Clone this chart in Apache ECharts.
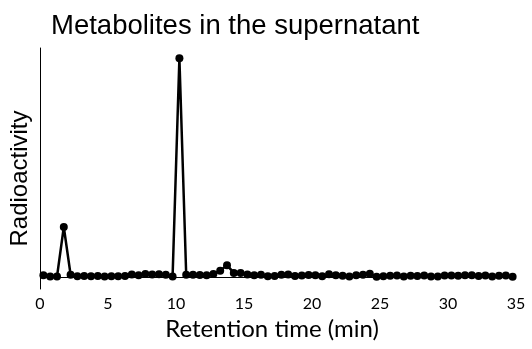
<!DOCTYPE html>
<html>
<head>
<meta charset="utf-8">
<script src="https://cdn.jsdelivr.net/npm/echarts@6/dist/echarts.min.js"></script>
<style>
  html, body { margin: 0; padding: 0; background: #fff; }
  #chart { width: 532px; height: 349px; }
</style>
</head>
<body>
<div id="chart"></div>
<script>
  // retention times (min), one fraction every 0.5 min
  var times = [
    0.25, 0.75, 1.25, 1.75, 2.25, 2.75, 3.25, 3.75, 4.25, 4.75,
    5.25, 5.75, 6.25, 6.75, 7.25, 7.75, 8.25, 8.75, 9.25, 9.75,
    10.25, 10.75, 11.25, 11.75, 12.25, 12.75, 13.25, 13.75, 14.25, 14.75,
    15.25, 15.75, 16.25, 16.75, 17.25, 17.75, 18.25, 18.75, 19.25, 19.75,
    20.25, 20.75, 21.25, 21.75, 22.25, 22.75, 23.25, 23.75, 24.25, 24.75,
    25.25, 25.75, 26.25, 26.75, 27.25, 27.75, 28.25, 28.75, 29.25, 29.75,
    30.25, 30.75, 31.25, 31.75, 32.25, 32.75, 33.25, 33.75, 34.25, 34.75
  ];
  // radioactivity (arbitrary units)
  var radioactivity = [
    1.0, 0.4, 0.4, 22.0, 1.2, 0.6, 0.7, 0.6, 0.7, 0.5,
    0.6, 0.6, 0.7, 1.3, 1.0, 1.5, 1.3, 1.4, 1.2, 0.5,
    95.5, 1.2, 1.2, 1.1, 1.0, 1.5, 3.0, 5.4, 2.0, 2.0,
    1.3, 1.0, 1.2, 0.6, 0.7, 1.2, 1.3, 0.7, 0.9, 1.1,
    1.0, 0.6, 1.4, 1.0, 0.8, 0.4, 1.0, 1.2, 1.6, 0.3,
    0.6, 0.8, 0.9, 0.5, 0.8, 0.7, 0.9, 0.5, 0.4, 0.9,
    0.9, 0.8, 1.0, 1.0, 0.7, 0.9, 0.5, 0.8, 0.9, 0.3
  ];
  var xTicks = [0, 5, 10, 15, 20, 25, 30, 35];

  var points = [];
  for (var i = 0; i < times.length; i++) {
    points.push([times[i], radioactivity[i]]);
  }

  var chart = echarts.init(document.getElementById('chart'));
  chart.setOption({
    animation: false,
    title: {
      text: 'Metabolites in the supernatant',
      left: 46,
      top: 7,
      textStyle: {
        fontFamily: 'Liberation Sans',
        fontSize: 27.5,
        fontWeight: 'normal',
        color: '#000'
      }
    },
    grid: {
      left: 39,
      right: 16,
      top: 48,
      bottom: 60
    },
    xAxis: {
      type: 'value',
      min: 0,
      max: 35,
      interval: 5,
      name: 'Retention time (min)',
      nameLocation: 'middle',
      nameGap: 25,
      nameTextStyle: {
        fontFamily: 'Lato',
        fontSize: 24,
        color: '#000',
        padding: [0, 12, 0, 0]
      },
      axisLine: { show: false },
      axisTick: { show: false },
      splitLine: { show: false },
      axisLabel: {
        margin: 7,
        fontFamily: 'Lato',
        fontSize: 16,
        color: '#000',
        formatter: function (v) {
          return xTicks.indexOf(v) >= 0 ? String(v) : '';
        }
      }
    },
    yAxis: {
      type: 'value',
      min: -5,
      max: 100,
      name: 'Radioactivity',
      nameLocation: 'middle',
      nameGap: 8,
      nameTextStyle: {
        fontFamily: 'Liberation Sans',
        fontSize: 24,
        color: '#000',
        padding: [0, 20, 0, 0]
      },
      axisLine: { show: true, lineStyle: { color: '#000', width: 1 } },
      axisTick: { show: false },
      axisLabel: { show: false },
      splitLine: { show: false }
    },
    series: [{
      type: 'line',
      data: points,
      symbol: 'circle',
      symbolSize: 8,
      showAllSymbol: true,
      itemStyle: { color: '#000' },
      lineStyle: { color: '#000', width: 2.5 },
      markLine: {
        silent: true,
        symbol: 'none',
        label: { show: false },
        lineStyle: { color: '#000', width: 1, type: 'solid' },
        data: [{ yAxis: 0 }]
      },
      z: 3
    }]
  });
</script>
</body>
</html>
